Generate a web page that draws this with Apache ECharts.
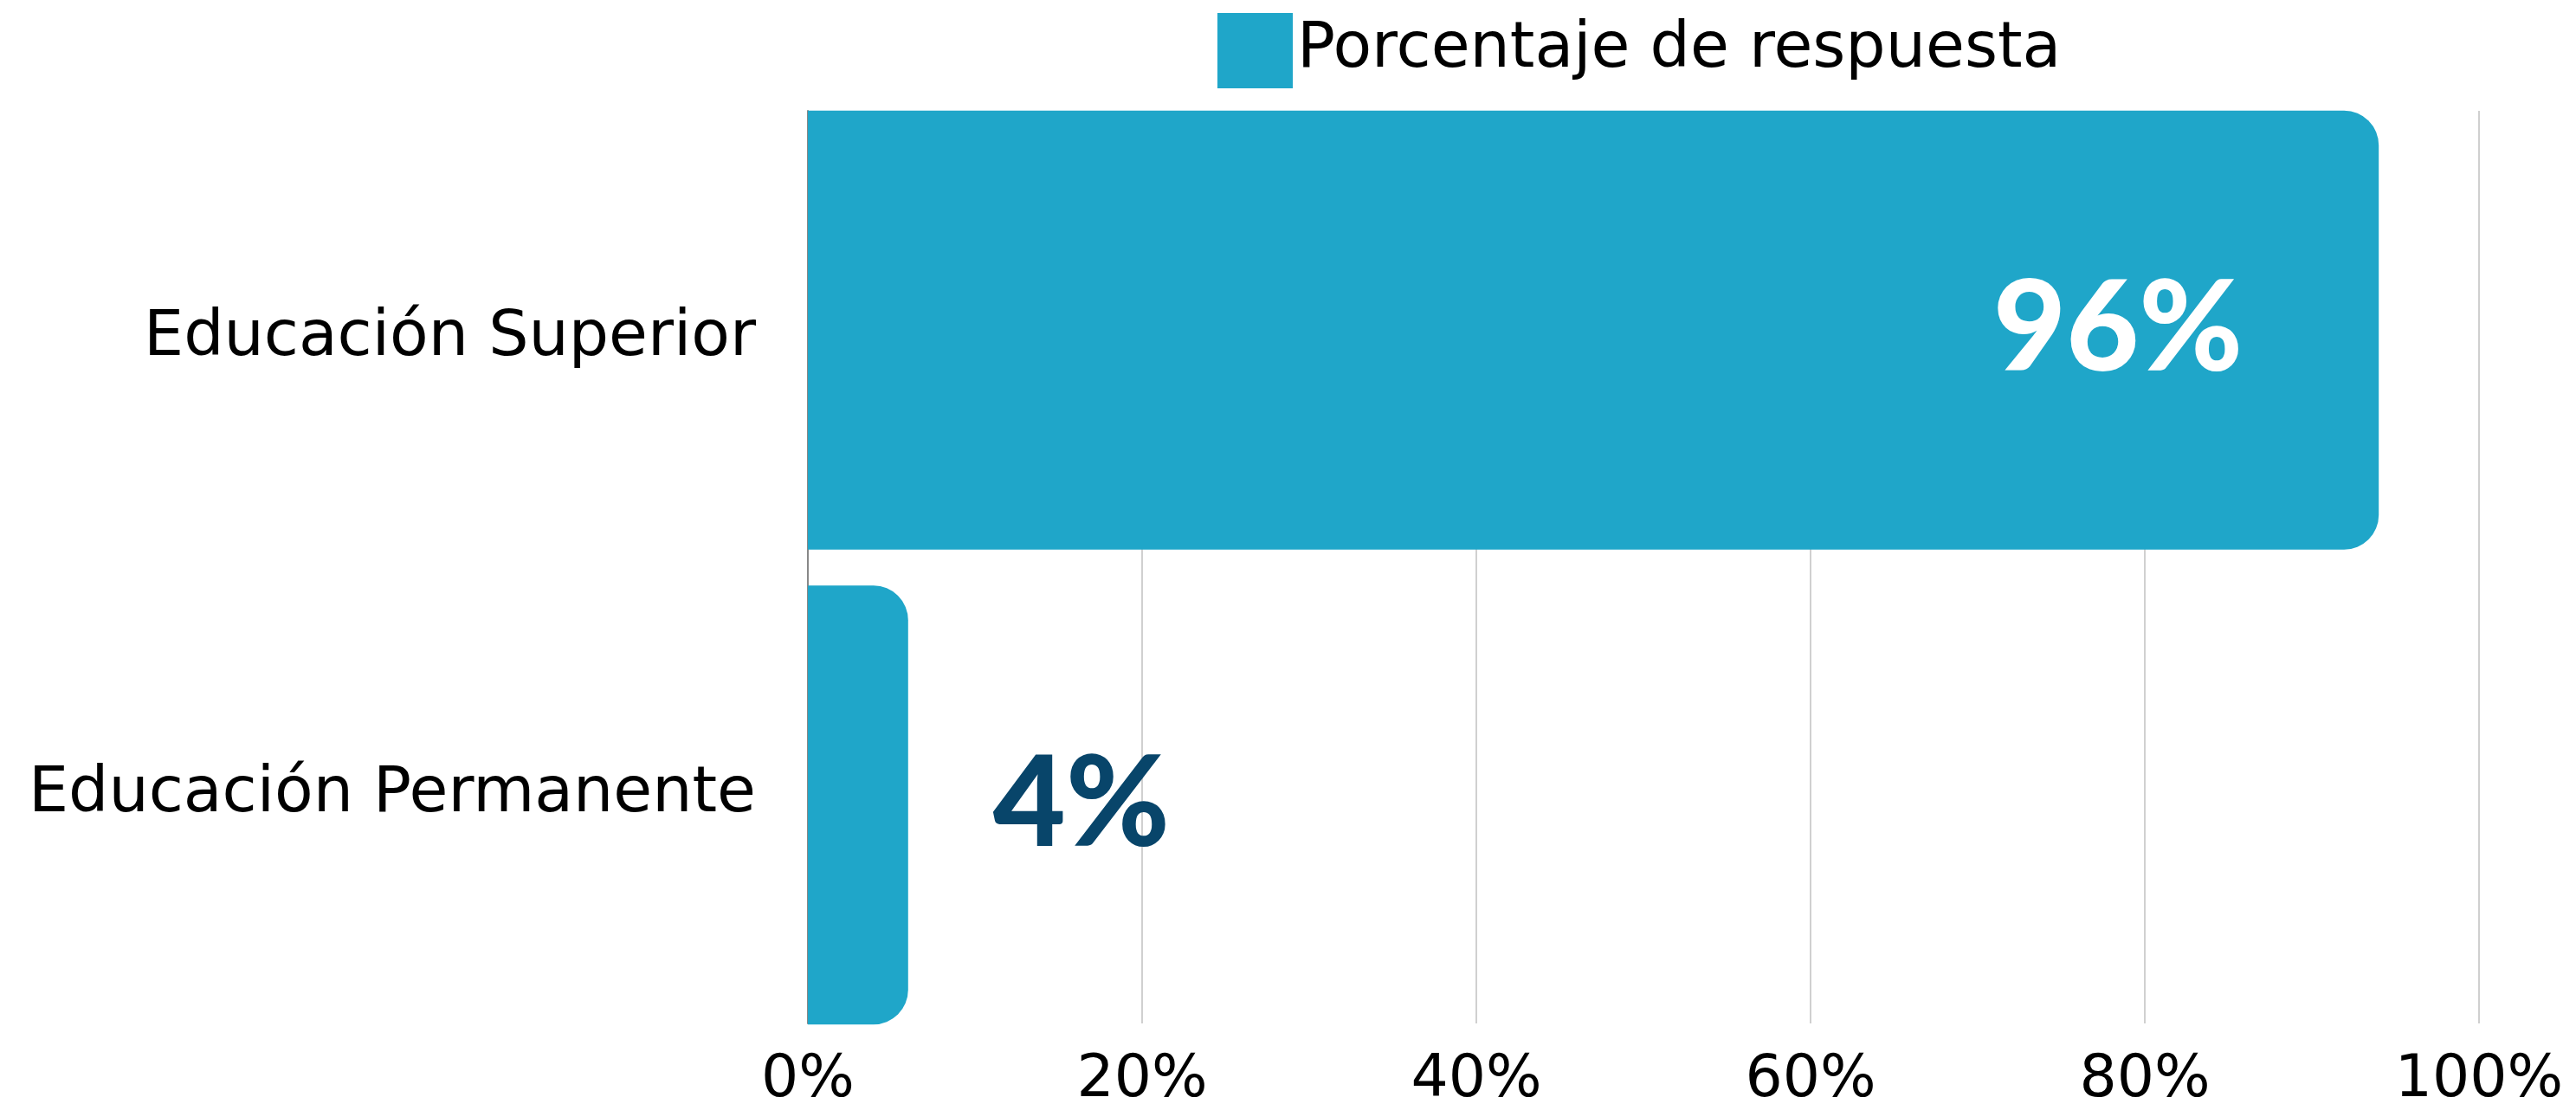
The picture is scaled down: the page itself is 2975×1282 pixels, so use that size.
<!DOCTYPE html>
<html>
<head>
<meta charset="utf-8">
<script src="https://cdn.jsdelivr.net/npm/echarts@6/dist/echarts.min.js"></script>
<style>
  html, body { margin: 0; padding: 0; background: #fff; }
  #chart { width: 2975px; height: 1282px; }
</style>
</head>
<body>
<div id="chart"></div>
<script>
// datos
const categories = ['Educación Superior', 'Educación Permanente'];
const barValues = [94, 6];
const valueLabels = ['96%', '4%'];
const seriesName = 'Porcentaje de respuesta';
const tickValues = [0, 20, 40, 60, 80, 100];

const chart = echarts.init(document.getElementById('chart'), null, { renderer: 'canvas' });

const xMin = tickValues[0];
const xMax = tickValues[tickValues.length - 1];

const option = {
  backgroundColor: '#fff',
  animation: false,
  legend: {
    data: [seriesName],
    left: 1406,
    top: 15,
    padding: 0,
    itemWidth: 87,
    itemHeight: 87,
    itemGap: 15,
    icon: 'rect',
    textStyle: { fontFamily: 'DejaVu Sans', fontSize: 73, color: '#000' }
  },
  // grid 0: ejes y rejilla, grid 1: barras (pegadas a los bordes)
  grid: [
    { left: 933, right: 112, top: 128, bottom: 99 },
    { left: 933, right: 112, top: 107, bottom: 78 }
  ],
  xAxis: [
    {
      gridIndex: 0,
      type: 'value',
      min: xMin,
      max: xMax,
      interval: 20,
      axisLine: { show: false },
      axisTick: { show: false },
      axisLabel: {
        fontFamily: 'DejaVu Sans',
        fontSize: 68,
        color: '#000',
        margin: 32,
        formatter: v => v + '%'
      },
      splitLine: { lineStyle: { color: '#d0d0d0', width: 2 } }
    },
    {
      gridIndex: 1,
      type: 'value',
      min: xMin,
      max: xMax,
      show: false
    }
  ],
  yAxis: [
    {
      gridIndex: 0,
      type: 'category',
      data: categories,
      inverse: true,
      axisLine: { show: true, lineStyle: { color: '#888', width: 2 } },
      axisTick: { show: false },
      axisLabel: { fontFamily: 'DejaVu Sans', fontSize: 73, color: '#000', margin: 60 }
    },
    {
      gridIndex: 1,
      type: 'category',
      data: categories,
      inverse: true,
      show: false
    }
  ],
  series: [{
    name: seriesName,
    type: 'bar',
    xAxisIndex: 1,
    yAxisIndex: 1,
    barWidth: 507,
    data: barValues.map((v, i) => ({
      value: v,
      label: i === 0
        ? { position: 'insideRight', distance: 157, color: '#fff' }
        : { position: 'right', distance: 98, color: '#08456a' }
    })),
    itemStyle: { color: '#1fa6c9', borderRadius: [0, 40, 40, 0] },
    label: {
      show: true,
      fontFamily: 'Lato',
      fontWeight: 900,
      fontSize: 145,
      formatter: p => valueLabels[p.dataIndex]
    }
  }]
};

chart.setOption(option);
</script>
</body>
</html>
